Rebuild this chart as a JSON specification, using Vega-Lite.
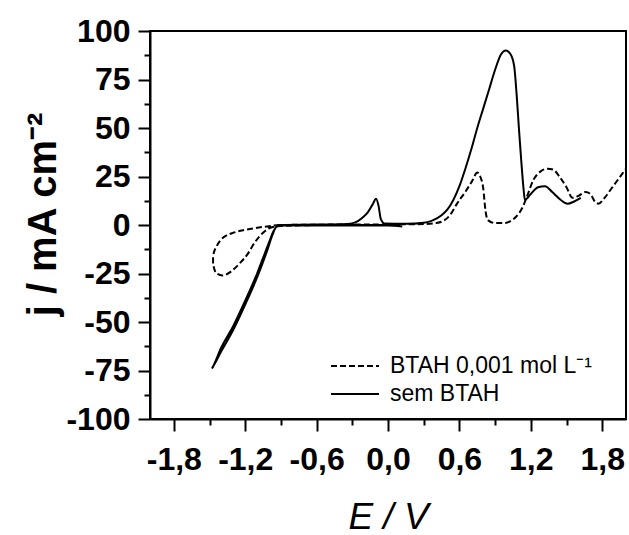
{
  "$schema": "https://vega.github.io/schema/vega-lite/v6.json",
  "autosize": {"type": "none"},
  "width": 476,
  "height": 388,
  "padding": {"left": 150, "top": 31, "right": 3, "bottom": 116},
  "background": "white",
  "config": {
    "view": {"stroke": "black", "strokeWidth": 2},
    "font": "Liberation Sans"
  },
  "data": {
    "values": [
      {"s": "sem BTAH", "i": 1, "E": 0.12, "j": -0.8},
      {"s": "sem BTAH", "i": 2, "E": 0.0, "j": -0.3},
      {"s": "sem BTAH", "i": 3, "E": -0.5, "j": -0.2},
      {"s": "sem BTAH", "i": 4, "E": -0.88, "j": -0.2},
      {"s": "sem BTAH", "i": 5, "E": -0.92, "j": 0},
      {"s": "sem BTAH", "i": 6, "E": -0.96, "j": -3},
      {"s": "sem BTAH", "i": 7, "E": -1.0, "j": -9},
      {"s": "sem BTAH", "i": 8, "E": -1.05, "j": -17},
      {"s": "sem BTAH", "i": 9, "E": -1.1, "j": -25},
      {"s": "sem BTAH", "i": 10, "E": -1.2, "j": -39},
      {"s": "sem BTAH", "i": 11, "E": -1.3, "j": -52},
      {"s": "sem BTAH", "i": 12, "E": -1.4, "j": -63},
      {"s": "sem BTAH", "i": 13, "E": -1.48, "j": -74},
      {"s": "sem BTAH", "i": 14, "E": -1.47, "j": -73},
      {"s": "sem BTAH", "i": 15, "E": -1.4, "j": -65},
      {"s": "sem BTAH", "i": 16, "E": -1.3, "j": -54},
      {"s": "sem BTAH", "i": 17, "E": -1.2, "j": -41},
      {"s": "sem BTAH", "i": 18, "E": -1.1, "j": -27},
      {"s": "sem BTAH", "i": 19, "E": -1.02, "j": -14},
      {"s": "sem BTAH", "i": 20, "E": -0.97, "j": -5},
      {"s": "sem BTAH", "i": 21, "E": -0.94, "j": -1},
      {"s": "sem BTAH", "i": 22, "E": -0.9, "j": 0},
      {"s": "sem BTAH", "i": 23, "E": -0.6, "j": 0.2},
      {"s": "sem BTAH", "i": 24, "E": -0.35, "j": 0.5},
      {"s": "sem BTAH", "i": 25, "E": -0.28, "j": 1.2},
      {"s": "sem BTAH", "i": 26, "E": -0.22, "j": 3.5},
      {"s": "sem BTAH", "i": 27, "E": -0.17, "j": 6.5},
      {"s": "sem BTAH", "i": 28, "E": -0.13, "j": 10.5},
      {"s": "sem BTAH", "i": 29, "E": -0.1, "j": 13.5},
      {"s": "sem BTAH", "i": 30, "E": -0.08, "j": 10},
      {"s": "sem BTAH", "i": 31, "E": -0.06, "j": 3},
      {"s": "sem BTAH", "i": 32, "E": -0.03, "j": 0.8},
      {"s": "sem BTAH", "i": 33, "E": 0.15, "j": 0.6},
      {"s": "sem BTAH", "i": 34, "E": 0.3, "j": 1.2},
      {"s": "sem BTAH", "i": 35, "E": 0.38, "j": 2.5},
      {"s": "sem BTAH", "i": 36, "E": 0.45, "j": 5},
      {"s": "sem BTAH", "i": 37, "E": 0.5, "j": 8},
      {"s": "sem BTAH", "i": 38, "E": 0.55, "j": 13},
      {"s": "sem BTAH", "i": 39, "E": 0.6, "j": 20},
      {"s": "sem BTAH", "i": 40, "E": 0.65, "j": 29},
      {"s": "sem BTAH", "i": 41, "E": 0.7, "j": 39},
      {"s": "sem BTAH", "i": 42, "E": 0.75, "j": 50},
      {"s": "sem BTAH", "i": 43, "E": 0.8, "j": 60},
      {"s": "sem BTAH", "i": 44, "E": 0.85, "j": 70},
      {"s": "sem BTAH", "i": 45, "E": 0.9, "j": 80},
      {"s": "sem BTAH", "i": 46, "E": 0.95, "j": 88},
      {"s": "sem BTAH", "i": 47, "E": 0.99, "j": 90},
      {"s": "sem BTAH", "i": 48, "E": 1.03, "j": 88},
      {"s": "sem BTAH", "i": 49, "E": 1.06, "j": 82},
      {"s": "sem BTAH", "i": 50, "E": 1.08, "j": 68},
      {"s": "sem BTAH", "i": 51, "E": 1.1, "j": 50},
      {"s": "sem BTAH", "i": 52, "E": 1.12, "j": 33},
      {"s": "sem BTAH", "i": 53, "E": 1.14, "j": 18},
      {"s": "sem BTAH", "i": 54, "E": 1.15, "j": 13},
      {"s": "sem BTAH", "i": 55, "E": 1.2, "j": 16},
      {"s": "sem BTAH", "i": 56, "E": 1.26, "j": 19.5},
      {"s": "sem BTAH", "i": 57, "E": 1.32, "j": 20},
      {"s": "sem BTAH", "i": 58, "E": 1.38, "j": 17},
      {"s": "sem BTAH", "i": 59, "E": 1.45, "j": 13},
      {"s": "sem BTAH", "i": 60, "E": 1.51, "j": 11},
      {"s": "sem BTAH", "i": 61, "E": 1.56, "j": 12},
      {"s": "sem BTAH", "i": 62, "E": 1.62, "j": 14},
      {"s": "BTAH 0,001 mol L⁻¹", "i": 1, "E": 0.1, "j": 0},
      {"s": "BTAH 0,001 mol L⁻¹", "i": 2, "E": -0.5, "j": 0},
      {"s": "BTAH 0,001 mol L⁻¹", "i": 3, "E": -0.9, "j": -0.5},
      {"s": "BTAH 0,001 mol L⁻¹", "i": 4, "E": -0.97, "j": -1},
      {"s": "BTAH 0,001 mol L⁻¹", "i": 5, "E": -1.05, "j": -4},
      {"s": "BTAH 0,001 mol L⁻¹", "i": 6, "E": -1.12, "j": -9},
      {"s": "BTAH 0,001 mol L⁻¹", "i": 7, "E": -1.18, "j": -15},
      {"s": "BTAH 0,001 mol L⁻¹", "i": 8, "E": -1.25, "j": -20},
      {"s": "BTAH 0,001 mol L⁻¹", "i": 9, "E": -1.32, "j": -24},
      {"s": "BTAH 0,001 mol L⁻¹", "i": 10, "E": -1.39, "j": -26},
      {"s": "BTAH 0,001 mol L⁻¹", "i": 11, "E": -1.44, "j": -25},
      {"s": "BTAH 0,001 mol L⁻¹", "i": 12, "E": -1.47, "j": -20},
      {"s": "BTAH 0,001 mol L⁻¹", "i": 13, "E": -1.47, "j": -16},
      {"s": "BTAH 0,001 mol L⁻¹", "i": 14, "E": -1.44, "j": -11},
      {"s": "BTAH 0,001 mol L⁻¹", "i": 15, "E": -1.41, "j": -8},
      {"s": "BTAH 0,001 mol L⁻¹", "i": 16, "E": -1.36, "j": -5.5},
      {"s": "BTAH 0,001 mol L⁻¹", "i": 17, "E": -1.3, "j": -4},
      {"s": "BTAH 0,001 mol L⁻¹", "i": 18, "E": -1.2, "j": -2.5},
      {"s": "BTAH 0,001 mol L⁻¹", "i": 19, "E": -1.13, "j": -1.7},
      {"s": "BTAH 0,001 mol L⁻¹", "i": 20, "E": -1.0, "j": -0.6},
      {"s": "BTAH 0,001 mol L⁻¹", "i": 21, "E": -0.9, "j": 0},
      {"s": "BTAH 0,001 mol L⁻¹", "i": 22, "E": -0.5, "j": 0.2},
      {"s": "BTAH 0,001 mol L⁻¹", "i": 23, "E": 0.0, "j": 0.3},
      {"s": "BTAH 0,001 mol L⁻¹", "i": 24, "E": 0.3, "j": 0.5},
      {"s": "BTAH 0,001 mol L⁻¹", "i": 25, "E": 0.4, "j": 1},
      {"s": "BTAH 0,001 mol L⁻¹", "i": 26, "E": 0.46, "j": 2},
      {"s": "BTAH 0,001 mol L⁻¹", "i": 27, "E": 0.52, "j": 5},
      {"s": "BTAH 0,001 mol L⁻¹", "i": 28, "E": 0.58, "j": 11},
      {"s": "BTAH 0,001 mol L⁻¹", "i": 29, "E": 0.66, "j": 18},
      {"s": "BTAH 0,001 mol L⁻¹", "i": 30, "E": 0.71, "j": 23},
      {"s": "BTAH 0,001 mol L⁻¹", "i": 31, "E": 0.75, "j": 27},
      {"s": "BTAH 0,001 mol L⁻¹", "i": 32, "E": 0.775, "j": 25},
      {"s": "BTAH 0,001 mol L⁻¹", "i": 33, "E": 0.8, "j": 19},
      {"s": "BTAH 0,001 mol L⁻¹", "i": 34, "E": 0.82, "j": 7},
      {"s": "BTAH 0,001 mol L⁻¹", "i": 35, "E": 0.84, "j": 2.5},
      {"s": "BTAH 0,001 mol L⁻¹", "i": 36, "E": 0.9, "j": 1},
      {"s": "BTAH 0,001 mol L⁻¹", "i": 37, "E": 0.98, "j": 1},
      {"s": "BTAH 0,001 mol L⁻¹", "i": 38, "E": 1.03, "j": 2},
      {"s": "BTAH 0,001 mol L⁻¹", "i": 39, "E": 1.08, "j": 4.5},
      {"s": "BTAH 0,001 mol L⁻¹", "i": 40, "E": 1.13, "j": 9},
      {"s": "BTAH 0,001 mol L⁻¹", "i": 41, "E": 1.17, "j": 15},
      {"s": "BTAH 0,001 mol L⁻¹", "i": 42, "E": 1.22, "j": 23},
      {"s": "BTAH 0,001 mol L⁻¹", "i": 43, "E": 1.28, "j": 27.5},
      {"s": "BTAH 0,001 mol L⁻¹", "i": 44, "E": 1.34, "j": 29},
      {"s": "BTAH 0,001 mol L⁻¹", "i": 45, "E": 1.39, "j": 28.5},
      {"s": "BTAH 0,001 mol L⁻¹", "i": 46, "E": 1.44, "j": 25},
      {"s": "BTAH 0,001 mol L⁻¹", "i": 47, "E": 1.5, "j": 19.5},
      {"s": "BTAH 0,001 mol L⁻¹", "i": 48, "E": 1.55, "j": 14},
      {"s": "BTAH 0,001 mol L⁻¹", "i": 49, "E": 1.6, "j": 15},
      {"s": "BTAH 0,001 mol L⁻¹", "i": 50, "E": 1.66, "j": 17},
      {"s": "BTAH 0,001 mol L⁻¹", "i": 51, "E": 1.7, "j": 16},
      {"s": "BTAH 0,001 mol L⁻¹", "i": 52, "E": 1.74, "j": 12},
      {"s": "BTAH 0,001 mol L⁻¹", "i": 53, "E": 1.77, "j": 11},
      {"s": "BTAH 0,001 mol L⁻¹", "i": 54, "E": 1.82, "j": 14},
      {"s": "BTAH 0,001 mol L⁻¹", "i": 55, "E": 1.88, "j": 19},
      {"s": "BTAH 0,001 mol L⁻¹", "i": 56, "E": 1.94, "j": 24},
      {"s": "BTAH 0,001 mol L⁻¹", "i": 57, "E": 2.0, "j": 29}
    ]
  },
  "mark": {"type": "line", "color": "black", "strokeWidth": 2, "interpolate": "monotone", "clip": true},
  "encoding": {
    "x": {
      "field": "E", "type": "quantitative",
      "scale": {"domain": [-2, 2], "nice": false, "zero": false},
      "axis": {
        "title": "E / V",
        "titleFont": "Liberation Sans", "titleFontSize": 37, "titleFontStyle": "italic", "titleFontWeight": "normal",
        "titleColor": "black",
        "titleX": 238, "titleY": 80, "titleBaseline": "top", "titleAlign": "center",
        "grid": false,
        "values": [-1.8, -1.5, -1.2, -0.9, -0.6, -0.3, 0, 0.3, 0.6, 0.9, 1.2, 1.5, 1.8],
        "labelExpr": "abs(round(datum.value / 0.3)) % 2 == 0 ? (datum.value < -0.001 ? '-' : '') + replace(format(abs(datum.value), '.1f'), '.', ',') : ''",
        "labelFont": "Liberation Sans", "labelFontSize": 32, "labelFontWeight": "bold", "labelColor": "black",
        "labelPadding": 13, "labelFlush": false, "labelOverlap": false,
        "domainColor": "black", "domainWidth": 2,
        "tickColor": "black", "tickWidth": 2,
        "tickSize": {"condition": {"test": "abs(round(datum.value / 0.3)) % 2 == 1", "value": 6}, "value": 12}
      }
    },
    "y": {
      "field": "j", "type": "quantitative",
      "scale": {"domain": [-100, 100], "nice": false, "zero": false},
      "axis": {
        "title": "j / mA cm⁻²",
        "titleFont": "Liberation Sans", "titleFontSize": 40, "titleFontWeight": "bold", "titleColor": "black",
        "titleX": -95, "titleY": 183, "titleBaseline": "alphabetic", "titleAlign": "center", "titleAngle": -90,
        "grid": false,
        "values": [-100, -87.5, -75, -62.5, -50, -37.5, -25, -12.5, 0, 12.5, 25, 37.5, 50, 62.5, 75, 87.5, 100],
        "labelExpr": "abs(datum.value) % 25 == 0 ? (datum.value < 0 ? '-' : '') + format(abs(datum.value), 'd') : ''",
        "labelFont": "Liberation Sans", "labelFontSize": 32, "labelFontWeight": "bold", "labelColor": "black",
        "labelPadding": 8, "labelFlush": false, "labelOverlap": false,
        "domainColor": "black", "domainWidth": 2,
        "tickColor": "black", "tickWidth": 2,
        "tickSize": {"condition": {"test": "abs(datum.value) % 25 != 0", "value": 6}, "value": 12}
      }
    },
    "strokeDash": {
      "field": "s", "type": "nominal",
      "scale": {"domain": ["BTAH 0,001 mol L⁻¹", "sem BTAH"], "range": [[6, 3], [48, 0]]},
      "legend": {
        "title": null, "orient": "none", "legendX": 192, "legendY": 322,
        "direction": "vertical", "columns": 1,
        "symbolType": "M-2,0H2", "symbolSize": 576, "symbolStrokeWidth": 2, "symbolStrokeColor": "black",
        "labelFont": "Liberation Sans", "labelFontSize": 23, "labelColor": "black", "labelOffset": 22,
        "rowPadding": 3, "labelLimit": 400
      }
    },
    "order": {"field": "i", "type": "quantitative"}
  }
}
